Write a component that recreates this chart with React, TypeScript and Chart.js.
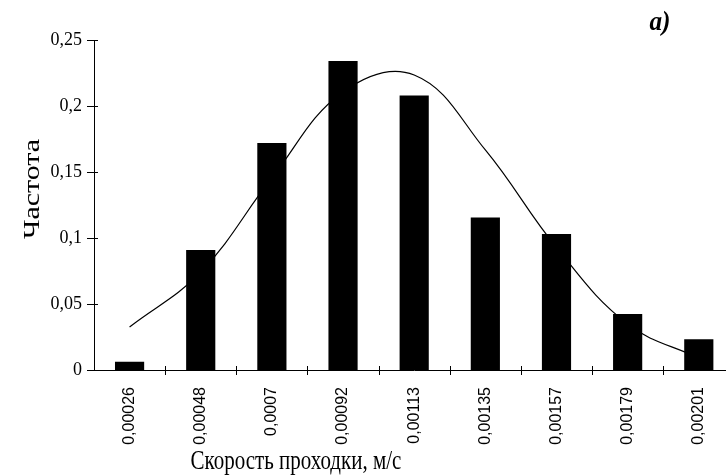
import React, { useEffect, useRef } from "react";
import { Chart, registerables } from "chart.js";

Chart.register(...registerables);

// Speed bins (m/s) and observed relative frequencies
const speedLabels = [
  "0,00026",
  "0,00048",
  "0,0007",
  "0,00092",
  "0,00113",
  "0,00135",
  "0,00157",
  "0,00179",
  "0,00201",
];
const frequency = [0.0063, 0.091, 0.172, 0.234, 0.208, 0.1155, 0.103, 0.0424, 0.0233];
// Smoothed theoretical density curve at the same bins
const fittedCurve = [0.0326, 0.0742, 0.1455, 0.2106, 0.2235, 0.1667, 0.0928, 0.0348, 0.009];

const yMin = 0;
const yMax = 0.25;
const yStep = 0.05;

const xAxisTitle = "Скорость проходки, м/с";
const yAxisTitle = "Частота";
const panelTag = "a)";

const formatTick = (v: number) => String(Number(v.toFixed(2))).replace(".", ",");

// Crossing tick marks on both axes plus the axis titles and panel tag
const decorations = {
  id: "decorations",
  afterDraw(chart: any) {
    const { ctx, chartArea } = chart;
    const xs = chart.scales.x;
    const ys = chart.scales.y;
    ctx.save();
    ctx.strokeStyle = "#000";
    ctx.lineWidth = 1;
    ctx.beginPath();
    ys.ticks.forEach((t: any) => {
      const py = Math.round(ys.getPixelForValue(t.value)) + 0.5;
      ctx.moveTo(chartArea.left - 7, py);
      ctx.lineTo(chartArea.left + 4, py);
    });
    const n = xs.ticks.length;
    const half = (xs.getPixelForValue(1) - xs.getPixelForValue(0)) / 2;
    for (let i = 1; i <= n; i++) {
      const px = Math.round(xs.getPixelForValue(i) - half) + 0.5;
      ctx.moveTo(px, chartArea.bottom - 4);
      ctx.lineTo(px, chartArea.bottom + 5);
    }
    ctx.stroke();

    ctx.fillStyle = "#000";
    ctx.textAlign = "center";
    ctx.textBaseline = "middle";

    // x-axis title
    ctx.save();
    ctx.font = "21px 'Liberation Serif', serif";
    ctx.translate(296, 462);
    ctx.scale(1, 1.3);
    ctx.fillText(xAxisTitle, 0, 0);
    ctx.restore();

    // y-axis title
    ctx.save();
    ctx.font = "24px 'Liberation Serif', serif";
    ctx.translate(33, 189);
    ctx.rotate(-Math.PI / 2);
    ctx.scale(1.25, 1);
    ctx.fillText(yAxisTitle, 0, 0);
    ctx.restore();

    // panel tag
    ctx.save();
    ctx.font = "italic bold 24px 'Liberation Serif', serif";
    ctx.translate(660, 23);
    ctx.scale(1.05, 1.15);
    ctx.fillText(panelTag, 0, 0);
    ctx.restore();

    ctx.restore();
  },
};

export default function App() {
  const canvasRef = useRef<HTMLCanvasElement | null>(null);

  useEffect(() => {
    const canvas = canvasRef.current;
    if (!canvas) return;
    const chart = new Chart(canvas, {
      type: "bar",
      data: {
        labels: speedLabels,
        datasets: [
          {
            type: "bar",
            data: frequency,
            backgroundColor: "#000",
            borderWidth: 0,
            barPercentage: 0.41,
            categoryPercentage: 1,
            order: 0,
          },
          {
            type: "line",
            data: fittedCurve,
            borderColor: "#000",
            borderWidth: 1.2,
            pointRadius: 0,
            tension: 0.4,
            fill: false,
            order: 1,
          },
        ],
      },
      options: {
        responsive: false,
        animation: false,
        devicePixelRatio: 1,
        layout: { padding: { top: 40, left: 0, right: 0, bottom: 0 } },
        plugins: {
          legend: { display: false },
          tooltip: { enabled: false },
          title: { display: false },
        },
        scales: {
          x: {
            offset: true,
            grid: { display: false, drawTicks: false },
            border: { display: true, color: "#000", width: 1 },
            ticks: {
              color: "#000",
              font: { family: "'Liberation Sans', sans-serif", size: 16 },
              minRotation: 90,
              maxRotation: 90,
              padding: 17,
              autoSkip: false,
            },
            afterFit: (s: any) => {
              s.height = 106;
            },
          },
          y: {
            min: yMin,
            max: yMax,
            grid: { display: false, drawTicks: false },
            border: { display: true, color: "#000", width: 1 },
            ticks: {
              stepSize: yStep,
              color: "#000",
              font: { family: "'Liberation Serif', serif", size: 18 },
              padding: 12,
              callback: (v: any) => formatTick(Number(v)),
            },
            afterFit: (s: any) => {
              s.width = 94;
            },
          },
        },
      },
      plugins: [decorations],
    });
    return () => chart.destroy();
  }, []);

  return (
    <div
      style={{
        position: "fixed",
        left: 0,
        top: 0,
        width: 726,
        height: 476,
        overflow: "hidden",
        background: "#fff",
      }}
    >
      <canvas ref={canvasRef} width={735} height={476} style={{ display: "block" }} />
    </div>
  );
}
